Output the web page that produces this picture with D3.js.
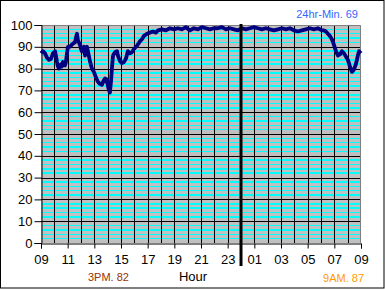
<!DOCTYPE html>
<html>
<head>
<meta charset="utf-8">
<script src="https://cdn.jsdelivr.net/npm/d3@7"></script>
<style>
  html, body { margin: 0; padding: 0; background: #fff; }
  svg { display: block; font-family: "Liberation Sans", Arial, sans-serif; }
</style>
</head>
<body>
<div id="chart"></div>
<script>
// Readings (clock time, value) from 09:00 to 09:00 the next day
const TIMES = [
  '09:00','09:09','09:18','09:27','09:36','09:45','09:54','10:03','10:07','10:12',
  '10:16','10:21','10:25','10:30','10:34','10:39','10:43','10:48','10:52','10:57',
  '11:01','11:10','11:19','11:24','11:33','11:37','11:42','11:46','11:55','12:00',
  '12:04','12:13','12:18','12:27','12:31','12:40','12:49','12:58','13:07','13:16',
  '13:25','13:34','13:39','13:48','13:52','13:57','14:01','14:06','14:10','14:15',
  '14:19','14:24','14:33','14:42','14:46','14:55','15:04','15:13','15:22','15:31',
  '15:40','15:49','15:58','16:12','16:25','16:34','16:43','16:57','17:10','17:24',
  '17:37','17:46','18:04','18:22','18:40','18:58','19:16','19:34','19:52','20:10',
  '20:28','20:46','21:04','21:22','21:40','21:58','22:16','22:34','22:52','23:10',
  '23:28','23:46','00:04','00:22','00:40','00:58','01:16','01:34','01:52','02:10',
  '02:28','02:46','03:04','03:22','03:40','03:58','04:16','04:34','04:52','05:10',
  '05:28','05:46','06:04','06:13','06:22','06:31','06:40','06:49','06:58','07:07',
  '07:16','07:25','07:34','07:43','07:52','08:01','08:10','08:19','08:28','08:37',
  '08:46','08:51','09:00'
];
const VALUES = [
  87, 88, 87, 85, 84, 84.5, 87, 88, 86, 83,
  81, 80, 81.5, 82, 81, 83, 82, 81.5, 83, 87,
  90, 90, 91, 91.5, 92, 94, 96, 93, 91, 89,
  88, 90, 86, 90, 88, 83.5, 80, 78.5, 76, 74,
  73, 72.5, 74, 75.5, 74, 75, 72, 70, 69, 74,
  80, 86, 87.5, 88, 86, 83.5, 82.5, 83, 84.5, 88,
  87, 87.5, 89, 90.5, 92.5, 93.5, 95, 96, 96.5, 97,
  96.5, 97.5, 98, 97.5, 98.5, 98, 98.5, 98, 99, 97.5,
  98.5, 98, 99, 98.5, 98, 98.5, 98.5, 99, 98, 98.5,
  98, 97.5, 98.5, 98, 98.5, 99, 98.5, 98, 98.5, 98,
  97.5, 98, 98.5, 98, 98.5, 97.5, 97, 97.5, 98, 98.5,
  98, 98.5, 97.5, 97.5, 97, 96, 95, 93.5, 91, 88,
  86, 86.5, 88, 87, 85.5, 84, 81, 78.5, 79.5, 82,
  86, 88, 87
];

const X_TICK_MINUTES = [0, 120, 240, 360, 480, 600, 720, 840, 960, 1080, 1200, 1320, 1440];
const X_TICK_LABELS  = ['09','11','13','15','17','19','21','23','01','03','05','07','09'];
const Y_TICKS = [0, 10, 20, 30, 40, 50, 60, 70, 80, 90, 100];
const MIDNIGHT_MINUTE = 900;

const MIN_LABEL = '24hr-Min. 69';
const PM_LABEL  = '3PM. 82';
const AM_LABEL  = '9AM. 87';
const X_TITLE   = 'Hour';

const W = 385, H = 290;
const PLOT = { left: 41, right: 361, top: 25, bottom: 243 };

// minutes since 09:00, rolling past midnight
let prev = -1, dayOffset = 0;
const data = TIMES.map((t, i) => {
  const [hh, mm] = t.split(':').map(Number);
  let m = hh * 60 + mm - 540 + dayOffset;
  if (m < 0) m += 1440;
  if (m <= prev) { dayOffset += 1440; m += 1440; }
  prev = m;
  return { m, v: VALUES[i] };
});

const svg = d3.select('#chart').append('svg')
  .attr('width', W).attr('height', H);

svg.append('rect')
  .attr('x', 0.5).attr('y', 0.5).attr('width', W - 1.5).attr('height', H - 2.5)
  .attr('fill', '#fff').attr('stroke', '#000');

const x = d3.scaleLinear().domain([0, 1440]).range([PLOT.left, PLOT.right]);
const y = d3.scaleLinear().domain([0, 100]).range([PLOT.bottom, PLOT.top]);

// plot background
svg.append('rect')
  .attr('x', PLOT.left).attr('y', PLOT.top)
  .attr('width', PLOT.right - PLOT.left).attr('height', PLOT.bottom - PLOT.top)
  .attr('fill', '#c0c0c0');

// cyan minor gridlines every 2 units
svg.append('g')
  .attr('shape-rendering', 'crispEdges')
  .selectAll('line')
  .data(d3.range(2, 100, 2).filter(v => v % 10 !== 0))
  .join('line')
    .attr('x1', PLOT.left).attr('x2', PLOT.right)
    .attr('y1', d => y(d)).attr('y2', d => y(d))
    .attr('stroke', '#00ffff').attr('stroke-width', 1.5);

// black major gridlines
svg.append('g')
  .selectAll('line')
  .data(Y_TICKS.filter(v => v > 0 && v < 100))
  .join('line')
    .attr('x1', PLOT.left).attr('x2', PLOT.right)
    .attr('y1', d => Math.round(y(d)) + 0.5).attr('y2', d => Math.round(y(d)) + 0.5)
    .attr('stroke', '#000');

svg.append('g')
  .selectAll('line')
  .data(d3.range(60, 1440, 60))
  .join('line')
    .attr('x1', d => Math.round(x(d)) + 0.5).attr('x2', d => Math.round(x(d)) + 0.5)
    .attr('y1', PLOT.top).attr('y2', PLOT.bottom)
    .attr('stroke', '#000');

// gray plot frame (top / right)
svg.append('path')
  .attr('d', `M${PLOT.left},${PLOT.top + 0.5}H${PLOT.right - 0.5}V${PLOT.bottom}`)
  .attr('fill', 'none').attr('stroke', '#808080');

// axes
svg.append('g')
  .attr('transform', `translate(${PLOT.left + 0.5},0)`)
  .call(d3.axisLeft(y).tickValues(Y_TICKS).tickSize(7).tickPadding(2))
  .call(ax => ax.selectAll('path,line').attr('stroke', '#000'))
  .call(ax => ax.selectAll('text').attr('fill', '#000')
    .style('font-family', '"Liberation Sans", Arial, sans-serif').style('font-size', '13px'));

svg.append('g')
  .attr('transform', `translate(0,${PLOT.bottom + 0.5})`)
  .call(d3.axisBottom(x).tickValues(X_TICK_MINUTES)
    .tickFormat((d, i) => X_TICK_LABELS[i]).tickSize(5).tickPadding(6))
  .call(ax => ax.selectAll('path,line').attr('stroke', '#000'))
  .call(ax => ax.selectAll('text').attr('fill', '#000')
    .style('font-family', '"Liberation Sans", Arial, sans-serif').style('font-size', '13px'));

// data line
svg.append('path')
  .datum(data)
  .attr('fill', 'none')
  .attr('stroke', '#000080')
  .attr('stroke-width', 3.8)
  .attr('stroke-linejoin', 'round')
  .attr('d', d3.line().x(d => x(d.m)).y(d => y(d.v)));

// midnight marker
svg.append('line')
  .attr('x1', x(MIDNIGHT_MINUTE)).attr('x2', x(MIDNIGHT_MINUTE))
  .attr('y1', PLOT.top - 1).attr('y2', 266)
  .attr('stroke', '#000').attr('stroke-width', 3);

// titles / annotations
svg.append('text')
  .attr('x', 193).attr('y', 281).attr('text-anchor', 'middle')
  .style('font-size', '13px').attr('fill', '#000')
  .text(X_TITLE);

svg.append('text')
  .attr('x', 88).attr('y', 281)
  .style('font-size', '11px').attr('fill', '#993300')
  .text(PM_LABEL);

svg.append('text')
  .attr('x', 364).attr('y', 282).attr('text-anchor', 'end')
  .style('font-size', '11px').attr('fill', '#ff9900')
  .text(AM_LABEL);

svg.append('text')
  .attr('x', 358).attr('y', 18).attr('text-anchor', 'end')
  .style('font-size', '11px').attr('fill', '#3366ff')
  .text(MIN_LABEL);
</script>
</body>
</html>
